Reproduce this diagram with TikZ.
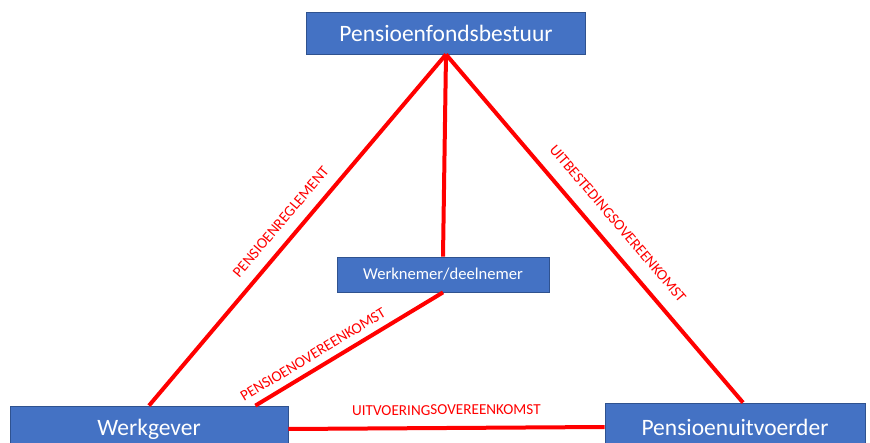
\documentclass[tikz,border=0pt]{standalone}
\usepackage{fontspec}
\setmainfont{Carlito}
\definecolor{boxblue}{HTML}{4472C4}
\definecolor{boxedge}{HTML}{2F528F}
\tikzset{
  box/.style={draw=boxedge, fill=boxblue, text=white, line width=0.8pt,
    inner sep=0pt, font=\fontsize{23.5}{26}\selectfont},
  smallbox/.style={box, font=\fontsize{16.6}{20}\selectfont},
  link/.style={draw=red, line width=4pt},
  lbl/.style={text=red, font=\fontsize{15.2}{17}\selectfont, inner sep=0pt, sloped}
}
\begin{document}
\begin{tikzpicture}[x=1pt,y=-1pt]
  \useasboundingbox (0,0) rectangle (870,443);
  \clip (0,0) rectangle (870,443);

  \node[box, minimum width=279pt, minimum height=42pt] (bestuur) at (446,33) {Pensioenfondsbestuur};
  \node[smallbox, minimum width=212pt, minimum height=35pt] (werknemer) at (443,274.5) {Werknemer/deelnemer};
  \node[box, minimum width=278pt, minimum height=46pt] (werkgever) at (149,429) {Werkgever};
  \node[box, minimum width=260pt, minimum height=48pt] (uitvoerder) at (735,427) {Pensioenuitvoerder};

  \draw[link] (werkgever.north) -- node[lbl, pos=0.49, above=11pt] {PENSIOENREGLEMENT} (bestuur.south);
  \draw[link] (bestuur.south) -- node[lbl, pos=0.525, above=14pt] {UITBESTEDINGSOVEREENKOMST} ([xshift=8pt]uitvoerder.north);
  \draw[link] (bestuur.south) -- (werknemer.north);
  \draw[link] ([xshift=-33pt]werkgever.north east) -- node[lbl, pos=0.345, above=7pt] {PENSIOENOVEREENKOMST} (werknemer.south);
  \draw[link] (werkgever.east) -- node[lbl, pos=0.5, above=11pt] {UITVOERINGSOVEREENKOMST} (uitvoerder.west);
\end{tikzpicture}
\end{document}
